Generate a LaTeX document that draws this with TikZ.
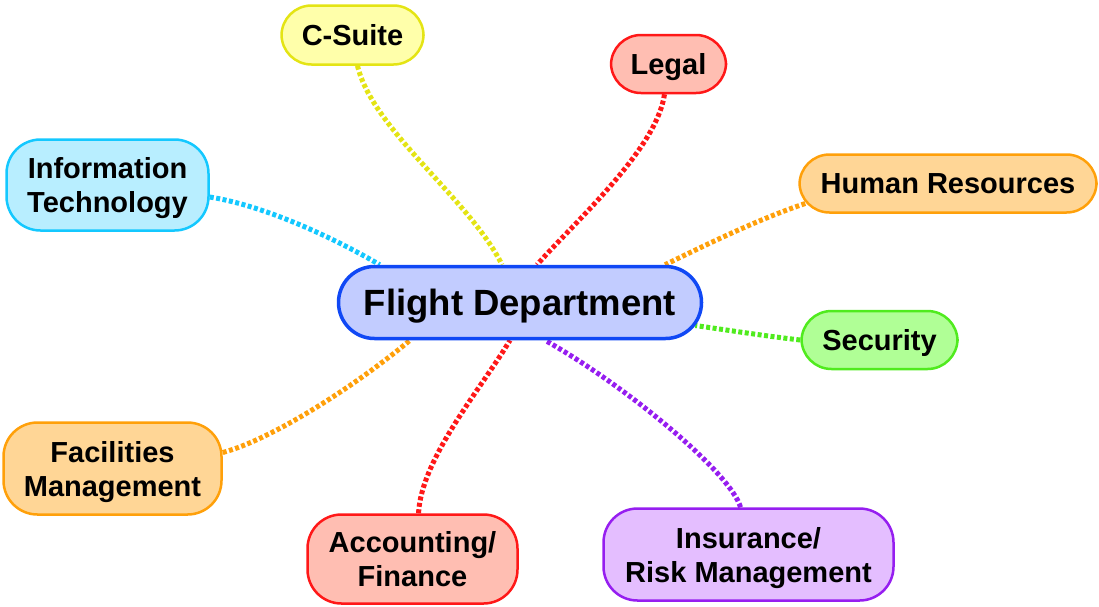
\documentclass[tikz,border=0pt]{standalone}
\usepackage{fontspec}
\setmainfont{Liberation Sans}
\usetikzlibrary{backgrounds}

\definecolor{fdFill}{RGB}{194,204,255}
\definecolor{fdLine}{RGB}{16,72,245}
\definecolor{ylFill}{RGB}{255,255,170}
\definecolor{ylLine}{RGB}{228,228,20}
\definecolor{rdFill}{RGB}{255,190,178}
\definecolor{rdLine}{RGB}{255,24,24}
\definecolor{cyFill}{RGB}{184,238,255}
\definecolor{cyLine}{RGB}{20,200,255}
\definecolor{orFill}{RGB}{255,214,150}
\definecolor{orLine}{RGB}{255,160,10}
\definecolor{grFill}{RGB}{176,255,150}
\definecolor{grLine}{RGB}{80,235,30}
\definecolor{puFill}{RGB}{228,190,255}
\definecolor{puLine}{RGB}{150,30,240}

\tikzset{
  topic/.style={draw, line width=2.5pt, inner sep=0pt, align=center, text depth=0pt,
    font=\fontsize{29}{34}\selectfont\bfseries, rounded corners=30pt},
  hub/.style={draw=fdLine, fill=fdFill, line width=3.5pt, inner sep=0pt, text depth=0pt,
    font=\fontsize{36.5}{40}\selectfont\bfseries, rounded corners=36pt,
    minimum width=363pt, minimum height=72pt},
  link/.style={line width=5pt, dash pattern=on 4pt off 2.5pt},
}

\begin{document}
\begin{tikzpicture}[x=1pt, y=-1pt]
  \useasboundingbox (0,0) rectangle (1099,606);

  % central topic
  \node[hub] (fd) at (520,302.5) {Flight Department};

  % surrounding topics
  \node[topic, draw=ylLine, fill=ylFill, minimum width=142pt, minimum height=59pt]
    (cs) at (352.5,35) {C-Suite};
  \node[topic, draw=rdLine, fill=rdFill, minimum width=115pt, minimum height=58pt]
    (legal) at (668.5,64) {Legal};
  \node[topic, draw=cyLine, fill=cyFill, minimum width=202pt, minimum height=91pt, rounded corners=34pt]
    (it) at (107.5,185) {Information\\Technology};
  \node[topic, draw=orLine, fill=orFill, minimum width=297pt, minimum height=58pt]
    (hr) at (948,183.5) {Human Resources};
  \node[topic, draw=grLine, fill=grFill, minimum width=156pt, minimum height=58pt]
    (sec) at (879.5,340) {Security};
  \node[topic, draw=orLine, fill=orFill, minimum width=218pt, minimum height=92pt, rounded corners=34pt]
    (fac) at (112.5,468.5) {Facilities\\Management};
  \node[topic, draw=rdLine, fill=rdFill, minimum width=210pt, minimum height=89pt, rounded corners=34pt]
    (acc) at (412.5,559) {Accounting/\\Finance};
  \node[topic, draw=puLine, fill=puFill, minimum width=290pt, minimum height=92pt, rounded corners=34pt]
    (ins) at (748.5,554.5) {Insurance/\\Risk Management};

  % dotted branches behind the topics
  \begin{pgfonlayer}{background}
    \draw[link, draw=ylLine] ([xshift=5pt]cs.south)
      .. controls +(15,64) and +(-32,-65) .. ([xshift=-18pt]fd.north);
    \draw[link, draw=rdLine] ([xshift=-4pt]legal.south)
      .. controls +(-8,55) and +(40,-45) .. ([xshift=17pt]fd.north);
    \draw[link, draw=cyLine] ([yshift=-12pt]it.east)
      .. controls +(50,8) and +(-55,-32) .. ([xshift=43pt]fd.north west);
    \draw[link, draw=orLine] ([shift={(7pt,-20pt)}]hr.west)
      .. controls +(-45,15) and +(45,-22) .. ([xshift=145pt]fd.north);
    \draw[link, draw=grLine] (sec.west)
      .. controls +(-35,-4) and +(35,5) .. ([shift={(-8pt,-23pt)}]fd.east);
    \draw[link, draw=orLine] ([yshift=16pt]fac.east)
      .. controls +(55,-15) and +(-45,38) .. ([xshift=-110pt]fd.south);
    \draw[link, draw=rdLine] ([xshift=6pt]acc.north)
      .. controls +(3,-55) and +(-30,50) .. ([xshift=-10pt]fd.south);
    \draw[link, draw=puLine] ([xshift=-8pt]ins.north)
      .. controls +(-10,-35) and +(80,45) .. ([xshift=25pt]fd.south);
  \end{pgfonlayer}
\end{tikzpicture}
\end{document}
